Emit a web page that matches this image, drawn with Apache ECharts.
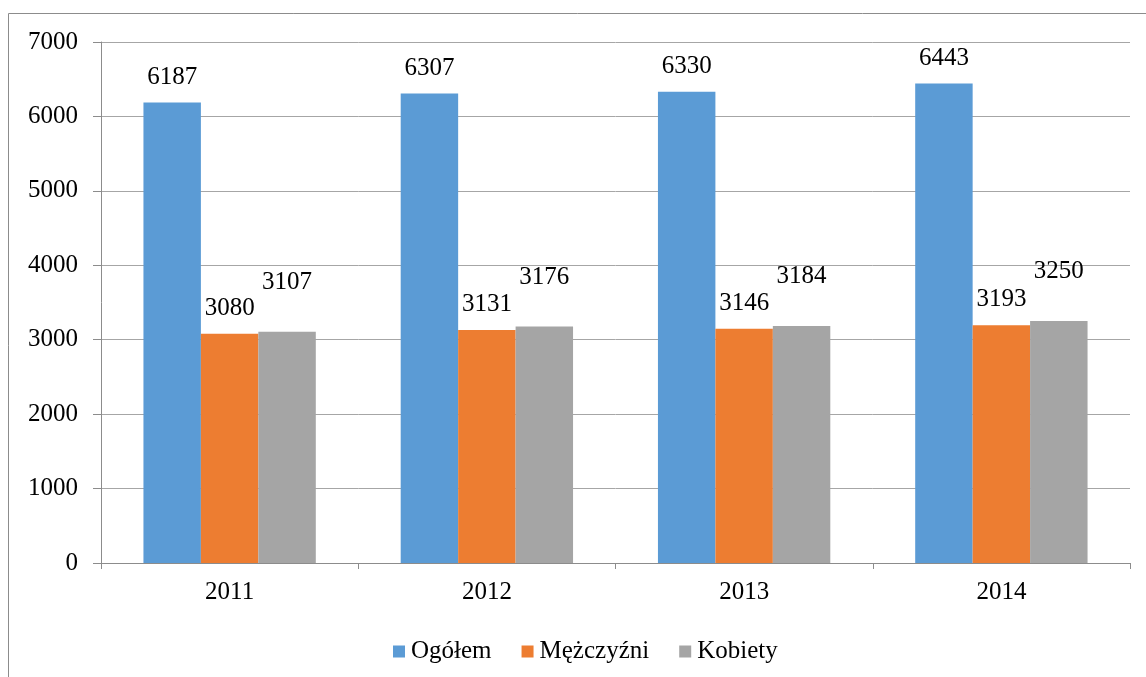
<!DOCTYPE html>
<html>
<head>
<meta charset="utf-8">
<script src="https://cdn.jsdelivr.net/npm/echarts@6/dist/echarts.min.js"></script>
<style>
html,body{margin:0;padding:0;background:#fff;}
#c{width:1146px;height:677px;}
</style>
</head>
<body>
<div id="c"></div>
<script>
const categories = ['2011', '2012', '2013', '2014'];
const seriesNames = ['Ogółem', 'Mężczyźni', 'Kobiety'];
const ogolem = [6187, 6307, 6330, 6443];
const mezczyzni = [3080, 3131, 3146, 3193];
const kobiety = [3107, 3176, 3184, 3250];
const yTicks = { min: 0, max: 7000, interval: 1000 };

const FONT = '"Liberation Serif", "Times New Roman", serif';
const colors = ['#5B9BD5', '#ED7D31', '#A5A5A5'];
const dataSets = [ogolem, mezczyzni, kobiety];
const labelDist = [13, 13, 37];

const chart = echarts.init(document.getElementById('c'));
chart.setOption({
  animation: false,
  textStyle: { fontFamily: FONT },
  graphic: [{
    type: 'rect',
    shape: { x: 8.5, y: 13.5, width: 1300, height: 800 },
    style: { fill: 'none', stroke: '#8c8c8c', lineWidth: 1 },
    silent: true
  }],
  grid: { left: 101, right: 16, top: 42, bottom: 114, containLabel: false },
  legend: {
    data: seriesNames,
    left: 388,
    top: 634,
    itemWidth: 12,
    itemHeight: 12,
    itemGap: 30,
    icon: 'rect',
    textStyle: { fontFamily: FONT, fontSize: 25, color: '#000', padding: [0, 0, 0, 1] }
  },
  xAxis: {
    type: 'category',
    data: categories,
    axisLine: { lineStyle: { color: '#8c8c8c', width: 1 } },
    axisTick: { show: true, length: 6, lineStyle: { color: '#8c8c8c' } },
    axisLabel: { fontFamily: FONT, fontSize: 25, color: '#000', margin: 17 }
  },
  yAxis: {
    type: 'value',
    min: yTicks.min,
    max: yTicks.max,
    interval: yTicks.interval,
    axisLine: { show: true, lineStyle: { color: '#8c8c8c', width: 1 } },
    axisTick: { show: true, length: 8, lineStyle: { color: '#8c8c8c' } },
    axisLabel: { fontFamily: FONT, fontSize: 25, color: '#000', margin: 23, formatter: v => String(v) },
    splitLine: { lineStyle: { color: '#a6a6a6', width: 1 } }
  },
  series: seriesNames.map((name, i) => ({
    name: name,
    type: 'bar',
    data: dataSets[i],
    barGap: '0%',
    barCategoryGap: '33%',
    itemStyle: { color: colors[i] },
    label: {
      show: true,
      position: 'top',
      distance: labelDist[i],
      fontFamily: FONT,
      fontSize: 25,
      color: '#000'
    }
  }))
});
</script>
</body>
</html>
